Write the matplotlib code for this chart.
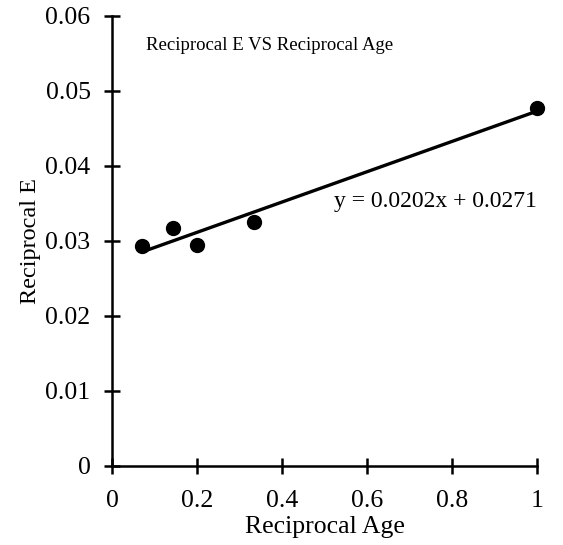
import numpy as np
import matplotlib.pyplot as plt

plt.rcParams['font.family'] = ['Liberation Serif', 'DejaVu Serif']

# data
recip_age = [1 / 14, 1 / 7, 1 / 5, 1 / 3, 1.0]
recip_e = [0.0293, 0.0317, 0.0294, 0.0325, 0.0477]
slope, intercept = 0.0202, 0.0271

fig = plt.figure(figsize=(5.63, 5.45), dpi=100)
ax = fig.add_axes([0.199, 0.145, 0.755, 0.826])

x_fit = np.array([min(recip_age), max(recip_age)])
ax.plot(x_fit, slope * x_fit + intercept, color='black', lw=2.4, zorder=2)
ax.plot(recip_age, recip_e, 'o', color='black', ms=10, zorder=3, clip_on=False)

ax.set_xlim(0, 1)
ax.set_ylim(0, 0.06)
ax.set_xticks([0, 0.2, 0.4, 0.6, 0.8, 1])
ax.set_xticklabels(['0', '0.2', '0.4', '0.6', '0.8', '1'])
ax.set_yticks([0, 0.01, 0.02, 0.03, 0.04, 0.05, 0.06])
ax.set_yticklabels(['0', '0.01', '0.02', '0.03', '0.04', '0.05', '0.06'])

for s in ['top', 'right']:
    ax.spines[s].set_visible(False)
for s in ['left', 'bottom']:
    ax.spines[s].set_linewidth(1.8)
ax.tick_params(direction='inout', length=11, width=1.8, labelsize=18.5)
ax.tick_params(axis='y', pad=10)
ax.tick_params(axis='x', pad=11.5)

ax.set_xlabel('Reciprocal Age', fontsize=18.5, labelpad=3)
ax.set_ylabel('Reciprocal E', fontsize=17.5, labelpad=3)
ax.text(0.37, 0.935, 'Reciprocal E VS Reciprocal Age', transform=ax.transAxes,
        ha='center', va='center', fontsize=13.5)
ax.text(0.76, 0.0353, 'y = 0.0202x + 0.0271', ha='center', va='center', fontsize=17)

fig.savefig('out.png', dpi=100)
